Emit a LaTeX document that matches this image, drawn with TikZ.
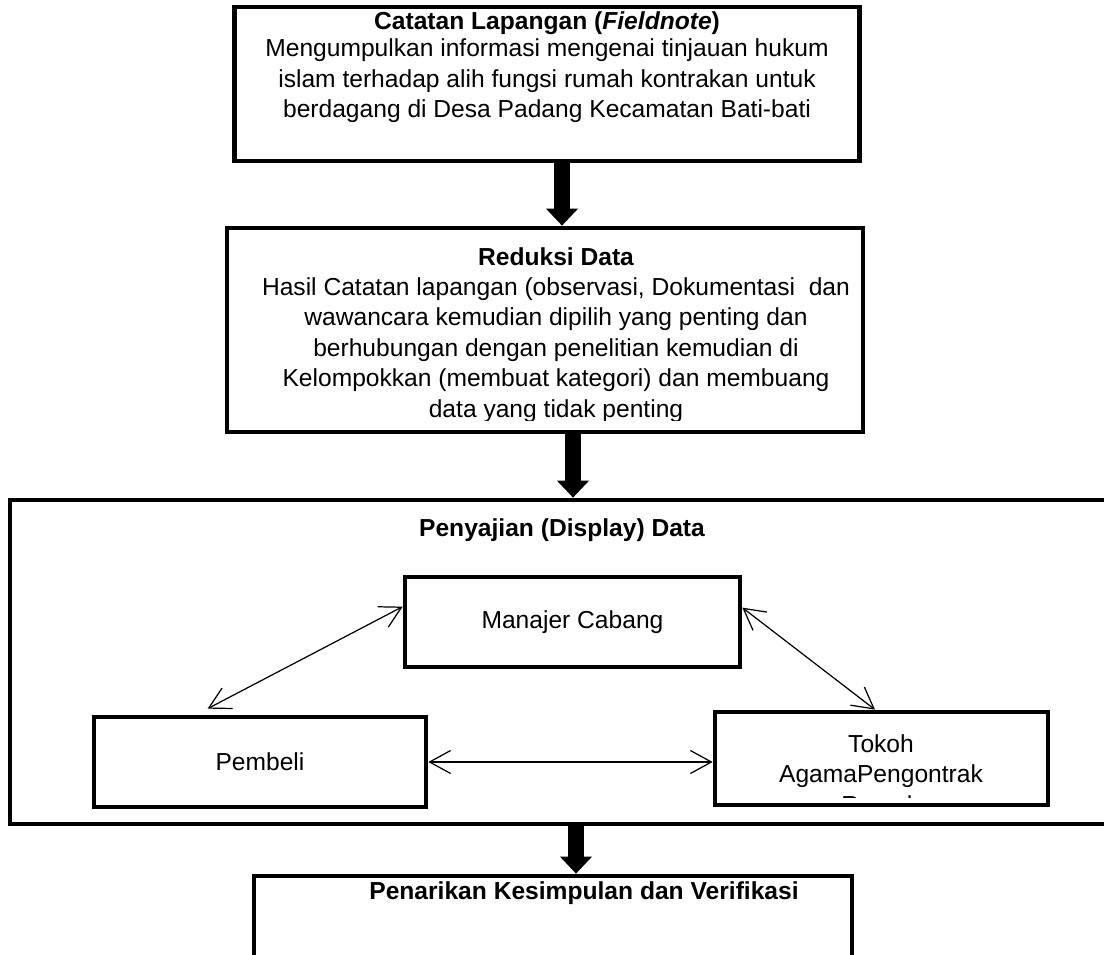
\documentclass[tikz,border=0pt]{standalone}
\usepackage{fontspec}
\setmainfont{Liberation Sans}
\usepackage{tikz}
\usetikzlibrary{arrows.meta,positioning}

\tikzset{
	kotak/.style={draw,line width=2.7pt,inner sep=0pt},
	isi/.style={align=center,inner sep=0pt,font=\fontsize{14}{17.4}\selectfont},
	judul/.style={isi,font=\fontsize{14}{17.4}\selectfont\bfseries},
	panah/.style={line width=0.32cm,-{Triangle[width=0.62cm,length=0.34cm]}},
	duaarah/.style={{Straight Barb[length=0.42cm,width=0.46cm]}-{Straight Barb[length=0.42cm,width=0.46cm]},line width=0.7pt}
}

\begin{document}
\begin{tikzpicture}[x=0.02cm,y=-0.02cm]
	\useasboundingbox (0,0) rectangle (1104,955);
	\node[kotak,minimum width=12.5cm,minimum height=3.08cm] (catatan) at (547,84) {};
	\node[judul] (judul catatan) at (547,23) {Catatan Lapangan (\textit{Fieldnote})};
	\node[isi] (isi catatan) at (547,81) {Mengumpulkan informasi mengenai tinjauan hukum\\islam terhadap alih fungsi rumah kontrakan untuk\\berdagang di Desa Padang Kecamatan Bati-bati};
	\node[kotak,minimum width=12.72cm,minimum height=4.08cm] (reduksi) at (545,330) {};
	\node[judul] (judul reduksi) at (556,257) {Reduksi Data};
	\begin{scope}
		\clip (230,240) rectangle (860,421);
		\node[isi] (isi reduksi) at (556,350) {Hasil Catatan lapangan (observasi, Dokumentasi \ dan\\wawancara kemudian dipilih yang penting dan\\berhubungan dengan penelitian kemudian di\\Kelompokkan (membuat kategori) dan membuang\\data yang tidak penting};
	\end{scope}
	\node[kotak,minimum width=22.1cm,minimum height=6.48cm] (sajian) at (562.5,662) {};
	\node[judul] (judul sajian) at (562,530) {Penyajian (Display) Data};
	\node[kotak,isi,minimum width=6.7cm,minimum height=1.8cm] (manajer) at (572.5,622) {Manajer Cabang};
	\node[kotak,isi,minimum width=6.64cm,minimum height=1.8cm] (pembeli) at (260,762) {Pembeli};
	\node[kotak,minimum width=6.66cm,minimum height=1.86cm] (tokoh) at (881.5,758.5) {};
	\begin{scope}
		\clip (718,715) rectangle (1045,797);
		\node[isi] (isi tokoh) at (881,774) {Tokoh\\AgamaPengontrak\\Rumah};
	\end{scope}
	\node[kotak,minimum width=11.96cm,minimum height=2.48cm] (kesimpulan) at (553,938) {};
	\node[judul] (judul kesimpulan) at (584,893) {Penarikan Kesimpulan dan Verifikasi};
	\draw[panah] ([xshift=0.3cm]catatan.south) -- ([xshift=0.3cm]catatan.south |- reduksi.north);
	\draw[panah] ([xshift=0.56cm]reduksi.south) -- ([xshift=0.56cm]reduksi.south |- sajian.north);
	\draw[panah] ([xshift=0.27cm]sajian.south) -- ([xshift=0.27cm]sajian.south |- kesimpulan.north);
	\draw[duaarah] ([yshift=-0.64cm]manajer.north west) -- ([xshift=2.32cm,yshift=0.12cm]pembeli.north west);
	\draw[duaarah] ([yshift=-0.66cm]manajer.north east) -- ([xshift=-0.13cm]tokoh.north);
	\draw[duaarah] (pembeli.east) -- (pembeli.east -| tokoh.west);
\end{tikzpicture}
\end{document}
